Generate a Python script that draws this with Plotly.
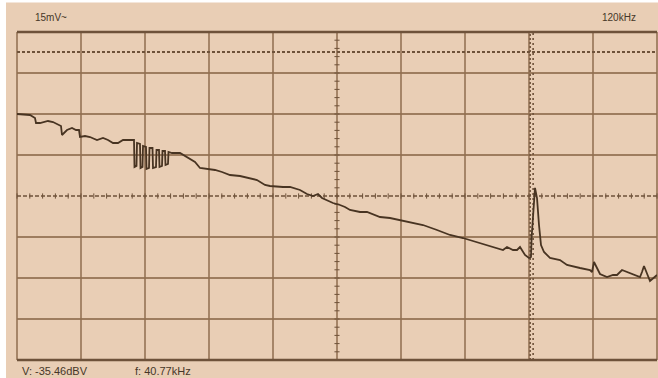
import plotly.graph_objects as go

# Spectrum trace: frequency (kHz) and level (dBV)
freq_khz = [
    -0.4, 0.64, 1.04, 1.12, 1.44, 1.76, 2.08, 2.48, 2.88, 3.12, 3.2, 3.28, 3.52, 3.6, 4.0, 4.32,
    4.56, 4.64, 5.04, 5.44, 6.0, 6.48, 6.88, 7.28, 7.68, 8.08, 8.88,
    8.96, 9.0, 9.16, 9.2, 9.44, 9.48, 9.64, 9.68, 9.92, 9.96, 10.16, 10.2, 10.44, 10.48,
    10.72, 10.76, 10.96, 11.0, 11.2, 11.24, 11.44, 11.48, 11.68, 11.72, 12.0,
    12.64, 13.2, 13.6, 13.84, 14.24, 14.8, 15.44, 16.0, 16.64, 17.44, 18.24, 18.8,
    19.44, 19.84, 20.88, 21.44, 22.24, 22.8, 23.28, 23.68, 24.0, 24.88, 25.44, 25.84,
    26.24, 27.04, 27.6, 28.64, 29.44, 30.24, 31.04, 32.08, 33.2, 34.24, 35.28, 36.4,
    37.44, 38.24, 38.48, 38.8, 39.28, 39.6, 39.84, 40.24, 40.56, 40.72, 40.77, 41.04,
    41.2, 41.36, 41.52, 41.76, 42.24, 43.04, 43.6, 44.64, 45.44, 45.6, 45.76, 46.24,
    46.8, 47.28, 47.6, 48.0, 48.4, 48.88, 49.44, 49.6, 49.76, 50.24, 50.8,
]
level_dbv = [
    -17.0, -17.25, -18.0, -19.25, -19.25, -19.0, -18.75, -19.0, -19.5, -20.0, -22.25, -22.0, -21.25, -21.0, -20.5, -21.0,
    -21.0, -22.75, -22.5, -22.75, -23.5, -23.0, -23.5, -24.25, -24.25, -23.5, -23.5,
    -23.5, -30.25, -30.0, -24.25, -24.5, -30.5, -30.25, -25.0, -25.25, -30.75, -30.5, -25.5,
    -25.5, -30.5, -30.25, -26.0, -26.0, -30.25, -30.0, -26.25, -26.25, -29.75, -29.5, -26.5,
    -26.75, -26.75,
    -27.75, -28.5, -29.0, -30.5, -30.75, -31.0, -31.5, -32.25, -32.5, -33.0, -33.5, -34.75,
    -35.0, -35.25, -35.25, -36.0, -37.0, -37.5, -37.0, -38.0, -39.25, -39.75, -40.25, -41.0,
    -41.5, -41.5, -42.75, -43.0, -43.5, -44.0, -44.75, -46.0, -47.25, -48.0, -49.0, -50.0,
    -50.75, -51.0, -50.25, -51.0, -51.0, -50.25, -52.25, -53.0, -52.75, -47.75, -35.46, -38.0,
    -44.75, -49.75, -51.5, -53.0, -53.5, -54.75, -55.5, -56.0, -56.5, -54.0, -57.0, -57.75,
    -57.25, -57.25, -56.0, -56.5, -57.25, -57.75, -56.5, -55.0, -58.75, -57.25, -58.5,
]

cursor_freq = 40.77
cursor_level = -35.46
ref_level = -1.5
x_range = [-0.4, 50.8]
y_range = [-78.5, 3.5]
n_xdiv, n_ydiv = 10, 8

bg = "rgb(233,206,181)"
grid = "rgba(145,110,80,0.85)"
dark = "rgb(110,82,58)"
trace_col = "rgb(72,52,34)"

shapes = []
# screen background panel
shapes.append(dict(type="rect", xref="paper", yref="paper",
                   x0=-0.0172, x1=1.01, y0=-0.06, y1=1.09,
                   fillcolor=bg, line=dict(width=0), layer="below"))
# graticule
for i in range(n_xdiv + 1):
    xv = i / n_xdiv
    shapes.append(dict(type="line", xref="x domain", yref="y domain",
                       x0=xv, x1=xv, y0=0, y1=1,
                       line=dict(color=grid, width=1.8), layer="below"))
for j in range(n_ydiv + 1):
    yv = j / n_ydiv
    if j == n_ydiv // 2:
        continue
    w = 2.4 if j in (0, n_ydiv) else 1.8
    c = dark if j in (0, n_ydiv) else grid
    shapes.append(dict(type="line", xref="x domain", yref="y domain",
                       x0=0, x1=1, y0=yv, y1=yv,
                       line=dict(color=c, width=w), layer="below"))
# centre horizontal axis (dashed, with minor ticks)
shapes.append(dict(type="line", xref="x domain", yref="y domain",
                   x0=0, x1=1, y0=0.5, y1=0.5,
                   line=dict(color=dark, width=1.6, dash="4px,2px"), layer="below"))
for k in range(n_xdiv * 5 + 1):
    xv = k / (n_xdiv * 5)
    shapes.append(dict(type="line", xref="x domain", yref="y domain",
                       x0=xv, x1=xv, y0=0.5 - 0.008, y1=0.5 + 0.008,
                       line=dict(color=dark, width=1), layer="below"))
# centre vertical axis minor ticks
for k in range(n_ydiv * 5 + 1):
    yv = k / (n_ydiv * 5)
    shapes.append(dict(type="line", xref="x domain", yref="y domain",
                       x0=0.5 - 0.004, x1=0.5 + 0.004, y0=yv, y1=yv,
                       line=dict(color=dark, width=1), layer="below"))
# reference level line
shapes.append(dict(type="line", xref="x domain", yref="y",
                   x0=0, x1=1, y0=ref_level, y1=ref_level,
                   line=dict(color=dark, width=2, dash="3px,2px"), layer="below"))
# marker cursor
shapes.append(dict(type="line", xref="x", yref="y domain",
                   x0=cursor_freq - 0.12, x1=cursor_freq - 0.12, y0=0, y1=1,
                   line=dict(color=dark, width=1.6, dash="2px,2px"), layer="below"))
shapes.append(dict(type="line", xref="x", yref="y domain",
                   x0=cursor_freq + 0.12, x1=cursor_freq + 0.12, y0=0, y1=1,
                   line=dict(color=dark, width=1.6, dash="2px,3px"), layer="below"))

fig = go.Figure()
fig.add_trace(go.Scatter(x=freq_khz, y=level_dbv, mode="lines",
                         line=dict(color=trace_col, width=1.8), hoverinfo="skip",
                         showlegend=False))

txt = dict(family="Liberation Sans, Arial, sans-serif", color="rgb(70,55,40)")
annotations = [
    dict(text="15mV~", xref="paper", yref="paper", x=0.025, y=1.045,
         xanchor="left", yanchor="middle", showarrow=False, font=dict(size=10, **txt)),
    dict(text="120kHz", xref="paper", yref="paper", x=0.97, y=1.045,
         xanchor="right", yanchor="middle", showarrow=False, font=dict(size=10, **txt)),
    dict(text=f"V: {cursor_level:.2f}dBV", xref="paper", yref="paper", x=0.005, y=-0.035,
         xanchor="left", yanchor="middle", showarrow=False, font=dict(size=11, **txt)),
    dict(text=f"f: {cursor_freq:.2f}kHz", xref="paper", yref="paper", x=0.181, y=-0.035,
         xanchor="left", yanchor="middle", showarrow=False, font=dict(size=11, **txt)),
]

fig.update_layout(
    width=658, height=378,
    margin=dict(l=17, r=1, t=32, b=18),
    paper_bgcolor="white",
    plot_bgcolor="rgba(0,0,0,0)",
    shapes=shapes,
    annotations=annotations,
    xaxis=dict(range=x_range, visible=False, showgrid=False, zeroline=False),
    yaxis=dict(range=y_range, visible=False, showgrid=False, zeroline=False),
)

fig.write_html("out.html", config={"displayModeBar": False})
